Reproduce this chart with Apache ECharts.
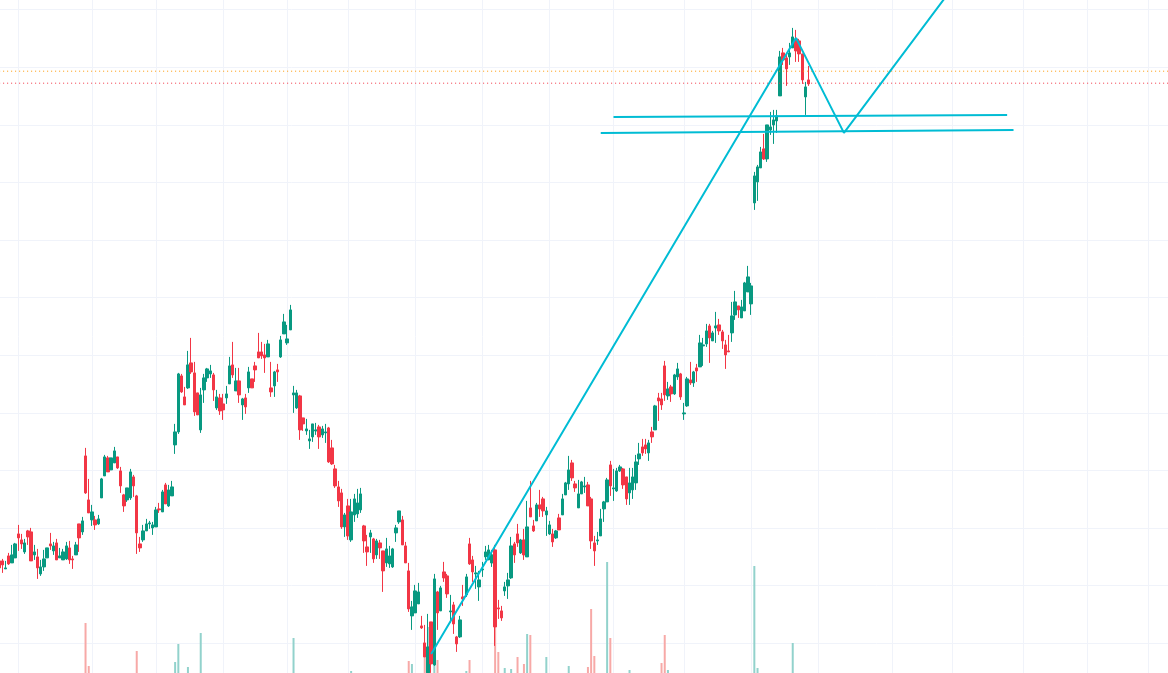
<!DOCTYPE html>
<html>
<head>
<meta charset="utf-8">
<title>chart</title>
<script src="https://cdn.jsdelivr.net/npm/echarts@6/dist/echarts.min.js"></script>
<style>
    html, body {margin: 0; padding: 0; background: #fff;}
    #main {width: 1168px; height: 673px;}
</style>
</head>
<body>
<div id="main"></div>
<script>
// no price labels in the picture, so prices are in a unit where one grid row is 57.6
var opens = [
    140,140,132,145,138,143,167,161,149,170,
    169,146,144,127,134,143,157,150,158,143,
    141,142,153,142,146,177,169,245,201,181,
    181,177,203,225,243,231,238,244,230,206,
    201,203,224,205,157,161,170,177,173,174,
    192,189,216,195,205,256,
    269,325,304,313,338,328,308,271,311,323,
    327,326,293,303,297,303,317,336,310,320,
    296,303,313,322,335,349,349,346,344,313,
    315,331,344,367,358,371,306,293,305,283,
    270,260,264,270,274,266,268,273,253,232,
    214,208,174,195,161,186,187,191,175,154,
    164,162,146,158,150,138,137,134,168,179,
    181,155,130,85,88,97,75,58,28,79,
    36,109,90,129,125,89,96,64,64,104,
    106,157,141,127,114,131,144,141,138,151,
    93,90,110,115,123,157,167,148,161,144,
    193,175,180,196,202,186,167,167,163,183,
    186,206,217,238,217,193,207,214,216,202,
    158,160,165,192,199,236,212,210,230,232,
    224,208,211,218,242,254,256,248,269,271,
    303,302,335,305,314,307,324,327,287,295,
    321,318,333,334,355,357,375,360,373,376,
    369,356,350,368,386,395,383,390,409,397,
    498,519,533,552,542,571,576,580,605,648,
    643,644,653,662,660,647,604,621
];
var closes = [
    133,136,133,137,146,157,163,157,158,164,
    140,149,133,134,142,153,155,155,141,145,
    149,155,141,141,156,163,180,208,188,189,
    176,182,222,244,229,243,250,233,215,195,
    213,229,215,168,153,170,177,178,176,191,
    191,209,197,211,214,269,
    327,309,296,336,329,289,286,306,323,332,
    330,311,304,290,291,307,335,326,320,306,
    302,294,329,313,331,343,345,343,357,309,
    329,329,361,379,362,391,308,308,271,277,
    272,262,277,271,264,272,269,239,237,215,
    200,174,186,165,189,202,198,207,160,149,
    168,142,160,153,130,152,145,152,173,190,
    156,138,92,94,110,109,73,44,54,37,
    122,88,113,123,107,90,77,57,81,102,
    124,137,129,128,121,132,149,151,146,74,
    92,83,114,121,155,146,158,161,146,174,
    184,170,196,192,190,190,176,159,170,171,
    202,218,231,223,213,207,219,215,195,160,
    150,161,182,199,221,215,213,230,234,216,
    202,218,224,239,247,248,252,258,264,295,
    300,296,306,312,307,326,332,304,288,322,
    318,329,330,358,356,370,363,368,375,370,
    360,346,349,385,399,391,394,418,424,415,
    525,534,549,542,576,574,581,585,644,641,
    632,648,664,650,647,621,614,617
];
var lows = [
    131,128,132,136,138,143,150,152,147,156,
    140,141,122,125,130,143,151,146,141,143,
    141,141,137,132,146,149,166,207,188,175,
    171,176,203,225,229,231,238,232,208,189,
    199,201,204,147,149,159,170,172,166,174,
    188,189,197,194,205,247,
    267,308,296,312,327,285,286,268,298,319,
    323,300,291,286,281,297,317,323,310,298,
    281,287,308,313,319,343,342,328,344,304,
    304,319,343,367,356,371,288,292,261,270,
    266,252,259,266,252,263,258,238,236,213,
    194,172,164,161,159,179,183,188,148,135,
    148,138,142,142,109,134,133,133,159,177,
    156,138,89,71,88,97,72,44,28,28,
    35,71,90,119,103,78,67,49,63,95,
    104,136,119,112,100,124,141,141,134,55,
    82,80,105,102,122,138,154,147,141,144,
    184,169,180,184,184,165,166,154,162,171,
    186,206,211,220,209,193,207,208,195,152,
    135,156,165,179,199,205,200,209,229,212,
    196,196,202,211,236,245,247,240,258,271,
    280,291,300,301,299,306,321,301,281,294,
    316,314,319,334,335,354,338,360,358,366,
    352,332,349,359,381,383,383,390,409,386,
    491,500,533,541,539,566,557,568,605,636,
    615,636,653,639,639,617,586,615
];
var highs = [
    144,142,140,148,156,158,176,167,162,171,
    173,156,152,141,151,153,168,159,162,153,
    152,159,160,145,159,177,184,253,222,196,
    185,186,223,246,245,243,254,244,234,207,
    213,232,226,206,164,176,182,180,179,194,
    198,211,218,216,220,277,
    328,327,314,350,363,339,308,313,327,333,
    336,328,311,307,307,315,344,359,333,333,
    303,307,334,322,339,368,359,357,361,339,
    330,337,365,387,376,396,315,311,306,283,
    282,271,277,278,276,275,277,274,261,236,
    220,212,188,202,202,207,212,213,176,166,
    171,163,162,161,150,163,155,153,176,190,
    185,159,138,100,116,118,85,76,87,79,
    127,110,115,139,127,106,99,65,85,116,
    127,163,145,135,130,139,155,156,151,156,
    101,95,119,128,164,159,177,162,172,200,
    220,181,198,211,204,194,180,172,171,187,
    207,219,245,241,220,221,220,224,219,204,
    165,169,192,200,223,240,232,233,236,233,
    224,233,233,246,258,262,262,261,274,296,
    308,308,340,319,316,327,338,328,298,324,
    339,330,337,366,363,377,377,370,389,382,
    371,361,366,399,410,395,401,419,435,418,
    529,536,554,567,576,589,591,591,650,653,
    648,658,673,671,662,647,619,635
];

// only the volume bars tall enough to show above the bottom edge
var volumeSessions = [27,28,43,55,56,59,63,92,110,128,129,133,134,136,137,146,147,155,156,158,160,162,164,165,166,171,178,184,185,186,190,191,197,207,208,209,236,237,248];
var volumeValues = [50,7,22,11,29,6,40,35,2,12,9,25,46,8,13,2,13,50,21,5,4,16,9,39,38,16,7,6,64,17,111,35,3,10,38,3,107,5,30];

// month ticks, as session numbers
var monthTicks = [6,29,49,70,90,109,130,151,172,192,214,235,256,279,298,320,340,359];

var zigzagSessions = [135,249,264,300];
var zigzagValues = [47,663,568,722];
var upperLevelSessions = [192,315];
var upperLevelValues = [584,586];
var lowerLevelSessions = [188,317];
var lowerLevelValues = [568,571];
var orangeLevel = 629.7;
var redLevel = 617.7;

var sessionCount = 367;
var upColor = '#089981';
var downColor = '#f23645';

var sessions = [];
for (let i = 0; i < sessionCount; i++) {
    sessions.push(String(i));
}

var candles = [];
for (let i = 0; i < opens.length; i++) {
    candles.push([opens[i], closes[i], lows[i], highs[i]]);
}

var volumes = [];
for (let i = 0; i < volumeSessions.length; i++) {
    let s = volumeSessions[i];
    volumes.push({
        value: [s, volumeValues[i]],
        itemStyle: {color: closes[s] >= opens[s] ? '#92d2cc' : '#f7a9a7'}
    });
}

function pairs(xs, ys) {
    let out = [];
    for (let i = 0; i < xs.length; i++) {
        out.push([xs[i], ys[i]]);
    }
    return out;
}

function drawing(data, color, width, type) {
    return {
        type: 'line',
        data: data,
        showSymbol: false,
        silent: true,
        xAxisIndex: 0,
        yAxisIndex: 0,
        lineStyle: {color: color, width: width, type: type}
    };
}

var myChart = echarts.init(document.getElementById('main'));
var option = {
    animation: false,
    backgroundColor: '#ffffff',
    grid: [
        {left: -0.87, width: 1171.2, top: -47.9, height: 748.8, outerBoundsMode: 'none'},
        {left: -0.87, width: 1171.2, top: 553, height: 120, outerBoundsMode: 'none'}
    ],
    xAxis: [
        {
            type: 'category',
            data: sessions,
            boundaryGap: false,
            axisLine: {show: false},
            axisTick: {show: false},
            axisLabel: {show: false},
            splitLine: {
                show: true,
                interval: function (index) {
                    return monthTicks.indexOf(index) !== -1;
                },
                lineStyle: {color: '#f0f3fa', width: 1}
            }
        },
        {
            type: 'category',
            gridIndex: 1,
            data: sessions,
            boundaryGap: false,
            show: false
        }
    ],
    yAxis: [
        {
            type: 'value',
            min: 0,
            max: 748.8,
            interval: 57.6,
            axisLine: {show: false},
            axisTick: {show: false},
            axisLabel: {show: false},
            splitLine: {show: true, lineStyle: {color: '#f0f3fa', width: 1}}
        },
        {
            type: 'value',
            gridIndex: 1,
            min: 0,
            max: 120,
            show: false,
            splitLine: {show: false}
        }
    ],
    series: [
        {
            type: 'bar',
            xAxisIndex: 1,
            yAxisIndex: 1,
            barWidth: 2,
            data: volumes
        },
        {
            type: 'candlestick',
            xAxisIndex: 0,
            yAxisIndex: 0,
            barWidth: 3,
            data: candles,
            itemStyle: {
                color: upColor,
                color0: downColor,
                borderColor: upColor,
                borderColor0: downColor,
                borderWidth: 1
            }
        },
        drawing(pairs([0, sessionCount - 1], [orangeLevel, orangeLevel]), '#ff9800', 1, [1, 3]),
        drawing(pairs([0, sessionCount - 1], [redLevel, redLevel]), '#f23645', 1, [1, 3]),
        drawing(pairs(zigzagSessions, zigzagValues), '#00bcd4', 2, 'solid'),
        drawing(pairs(upperLevelSessions, upperLevelValues), '#00bcd4', 2, 'solid'),
        drawing(pairs(lowerLevelSessions, lowerLevelValues), '#00bcd4', 2, 'solid')
    ]
};
myChart.setOption(option);
</script>
</body>
</html>
